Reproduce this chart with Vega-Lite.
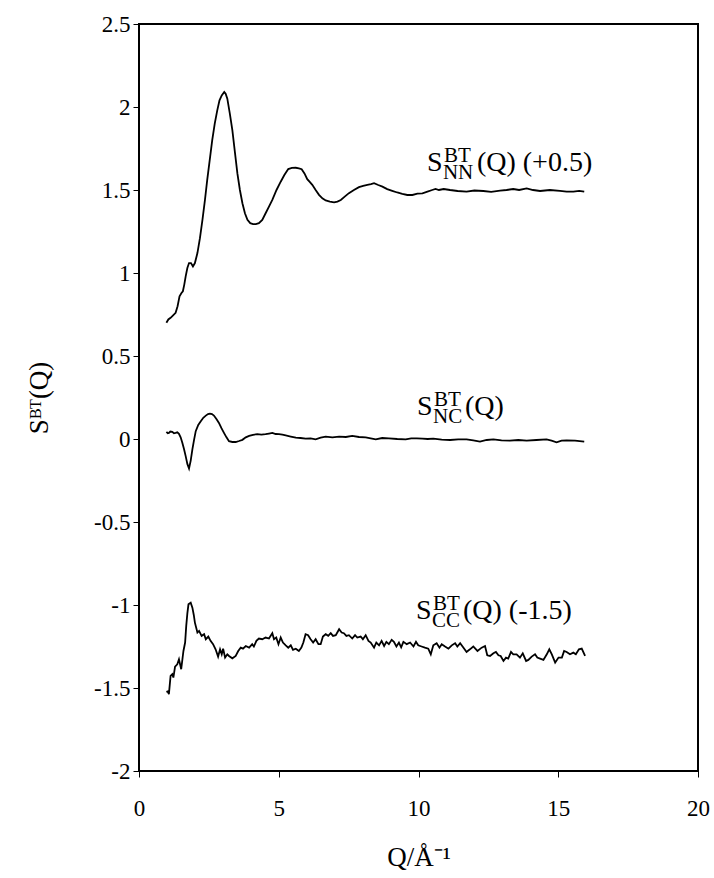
{
  "$schema": "https://vega.github.io/schema/vega-lite/v6.json",
  "width": 559,
  "height": 747,
  "autosize": {"type": "none"},
  "padding": {"left": 139, "top": 24, "right": 16, "bottom": 107},
  "background": "white",
  "config": {
    "view": {"stroke": "black", "strokeWidth": 2},
    "font": "Liberation Serif",
    "axis": {
      "labelFont": "Liberation Serif",
      "titleFont": "Liberation Serif",
      "labelColor": "black",
      "titleColor": "black",
      "tickColor": "black",
      "domainColor": "black",
      "grid": false,
      "labelFontSize": 23,
      "titleFontSize": 27,
      "titleFontWeight": "normal",
      "tickSize": 6
    }
  },
  "datasets": {
    "curves": [
      {"series": "NN", "q": 0.98, "s": 0.70}, {"series": "NN", "q": 1.05, "s": 0.72}, {"series": "NN", "q": 1.13, "s": 0.73}, {"series": "NN", "q": 1.22, "s": 0.745}, {"series": "NN", "q": 1.31, "s": 0.76}, {"series": "NN", "q": 1.38, "s": 0.80}, {"series": "NN", "q": 1.45, "s": 0.86}, {"series": "NN", "q": 1.52, "s": 0.88}, {"series": "NN", "q": 1.57, "s": 0.89}, {"series": "NN", "q": 1.62, "s": 0.93}, {"series": "NN", "q": 1.67, "s": 0.98}, {"series": "NN", "q": 1.73, "s": 1.03}, {"series": "NN", "q": 1.79, "s": 1.06}, {"series": "NN", "q": 1.86, "s": 1.06}, {"series": "NN", "q": 1.93, "s": 1.04}, {"series": "NN", "q": 2.00, "s": 1.06}, {"series": "NN", "q": 2.09, "s": 1.12}, {"series": "NN", "q": 2.18, "s": 1.21}, {"series": "NN", "q": 2.27, "s": 1.32}, {"series": "NN", "q": 2.36, "s": 1.44}, {"series": "NN", "q": 2.44, "s": 1.56}, {"series": "NN", "q": 2.53, "s": 1.68}, {"series": "NN", "q": 2.62, "s": 1.80}, {"series": "NN", "q": 2.71, "s": 1.90}, {"series": "NN", "q": 2.80, "s": 1.98}, {"series": "NN", "q": 2.88, "s": 2.04}, {"series": "NN", "q": 2.96, "s": 2.07}, {"series": "NN", "q": 3.05, "s": 2.09}, {"series": "NN", "q": 3.10, "s": 2.08}, {"series": "NN", "q": 3.16, "s": 2.05}, {"series": "NN", "q": 3.25, "s": 1.96}, {"series": "NN", "q": 3.34, "s": 1.86}, {"series": "NN", "q": 3.43, "s": 1.73}, {"series": "NN", "q": 3.52, "s": 1.60}, {"series": "NN", "q": 3.61, "s": 1.50}, {"series": "NN", "q": 3.70, "s": 1.42}, {"series": "NN", "q": 3.79, "s": 1.36}, {"series": "NN", "q": 3.88, "s": 1.32}, {"series": "NN", "q": 3.98, "s": 1.30}, {"series": "NN", "q": 4.08, "s": 1.295}, {"series": "NN", "q": 4.18, "s": 1.295}, {"series": "NN", "q": 4.29, "s": 1.30}, {"series": "NN", "q": 4.41, "s": 1.32}, {"series": "NN", "q": 4.53, "s": 1.36}, {"series": "NN", "q": 4.65, "s": 1.40}, {"series": "NN", "q": 4.77, "s": 1.44}, {"series": "NN", "q": 4.92, "s": 1.50}, {"series": "NN", "q": 5.07, "s": 1.55}, {"series": "NN", "q": 5.20, "s": 1.59}, {"series": "NN", "q": 5.34, "s": 1.626}, {"series": "NN", "q": 5.47, "s": 1.633}, {"series": "NN", "q": 5.61, "s": 1.634}, {"series": "NN", "q": 5.72, "s": 1.63}, {"series": "NN", "q": 5.82, "s": 1.625}, {"series": "NN", "q": 5.92, "s": 1.60}, {"series": "NN", "q": 6.02, "s": 1.565}, {"series": "NN", "q": 6.10, "s": 1.55}, {"series": "NN", "q": 6.20, "s": 1.531}, {"series": "NN", "q": 6.32, "s": 1.50}, {"series": "NN", "q": 6.44, "s": 1.471}, {"series": "NN", "q": 6.56, "s": 1.45}, {"series": "NN", "q": 6.68, "s": 1.437}, {"series": "NN", "q": 6.83, "s": 1.43}, {"series": "NN", "q": 6.98, "s": 1.425}, {"series": "NN", "q": 7.10, "s": 1.43}, {"series": "NN", "q": 7.22, "s": 1.44}, {"series": "NN", "q": 7.36, "s": 1.46}, {"series": "NN", "q": 7.51, "s": 1.481}, {"series": "NN", "q": 7.69, "s": 1.50}, {"series": "NN", "q": 7.87, "s": 1.517}, {"series": "NN", "q": 8.02, "s": 1.525}, {"series": "NN", "q": 8.17, "s": 1.531}, {"series": "NN", "q": 8.30, "s": 1.535}, {"series": "NN", "q": 8.41, "s": 1.541}, {"series": "NN", "q": 8.56, "s": 1.53}, {"series": "NN", "q": 8.71, "s": 1.52}, {"series": "NN", "q": 8.88, "s": 1.505}, {"series": "NN", "q": 9.06, "s": 1.495}, {"series": "NN", "q": 9.24, "s": 1.485}, {"series": "NN", "q": 9.42, "s": 1.477}, {"series": "NN", "q": 9.60, "s": 1.47}, {"series": "NN", "q": 9.78, "s": 1.47}, {"series": "NN", "q": 9.96, "s": 1.478}, {"series": "NN", "q": 10.14, "s": 1.48}, {"series": "NN", "q": 10.32, "s": 1.49}, {"series": "NN", "q": 10.49, "s": 1.50}, {"series": "NN", "q": 10.61, "s": 1.506}, {"series": "NN", "q": 10.73, "s": 1.50}, {"series": "NN", "q": 10.90, "s": 1.506}, {"series": "NN", "q": 11.13, "s": 1.50}, {"series": "NN", "q": 11.40, "s": 1.494}, {"series": "NN", "q": 11.72, "s": 1.49}, {"series": "NN", "q": 12.00, "s": 1.497}, {"series": "NN", "q": 12.32, "s": 1.494}, {"series": "NN", "q": 12.60, "s": 1.489}, {"series": "NN", "q": 12.92, "s": 1.496}, {"series": "NN", "q": 13.15, "s": 1.50}, {"series": "NN", "q": 13.39, "s": 1.506}, {"series": "NN", "q": 13.60, "s": 1.50}, {"series": "NN", "q": 13.87, "s": 1.51}, {"series": "NN", "q": 14.10, "s": 1.50}, {"series": "NN", "q": 14.35, "s": 1.494}, {"series": "NN", "q": 14.70, "s": 1.50}, {"series": "NN", "q": 15.06, "s": 1.495}, {"series": "NN", "q": 15.30, "s": 1.49}, {"series": "NN", "q": 15.54, "s": 1.49}, {"series": "NN", "q": 15.75, "s": 1.495}, {"series": "NN", "q": 15.93, "s": 1.49},

      {"series": "NC", "q": 0.98, "s": 0.043}, {"series": "NC", "q": 1.03, "s": 0.035}, {"series": "NC", "q": 1.07, "s": 0.037}, {"series": "NC", "q": 1.12, "s": 0.045}, {"series": "NC", "q": 1.19, "s": 0.043}, {"series": "NC", "q": 1.25, "s": 0.035}, {"series": "NC", "q": 1.31, "s": 0.037}, {"series": "NC", "q": 1.37, "s": 0.040}, {"series": "NC", "q": 1.43, "s": 0.031}, {"series": "NC", "q": 1.49, "s": 0.010}, {"series": "NC", "q": 1.55, "s": -0.023}, {"series": "NC", "q": 1.61, "s": -0.06}, {"series": "NC", "q": 1.67, "s": -0.103}, {"series": "NC", "q": 1.73, "s": -0.15}, {"series": "NC", "q": 1.79, "s": -0.178}, {"series": "NC", "q": 1.85, "s": -0.13}, {"series": "NC", "q": 1.91, "s": -0.063}, {"series": "NC", "q": 1.97, "s": -0.005}, {"series": "NC", "q": 2.03, "s": 0.047}, {"series": "NC", "q": 2.12, "s": 0.085}, {"series": "NC", "q": 2.21, "s": 0.107}, {"series": "NC", "q": 2.30, "s": 0.128}, {"series": "NC", "q": 2.39, "s": 0.141}, {"series": "NC", "q": 2.47, "s": 0.150}, {"series": "NC", "q": 2.54, "s": 0.153}, {"series": "NC", "q": 2.61, "s": 0.150}, {"series": "NC", "q": 2.68, "s": 0.141}, {"series": "NC", "q": 2.77, "s": 0.12}, {"series": "NC", "q": 2.86, "s": 0.097}, {"series": "NC", "q": 2.95, "s": 0.065}, {"series": "NC", "q": 3.04, "s": 0.037}, {"series": "NC", "q": 3.13, "s": 0.010}, {"series": "NC", "q": 3.22, "s": -0.013}, {"series": "NC", "q": 3.34, "s": -0.018}, {"series": "NC", "q": 3.46, "s": -0.018}, {"series": "NC", "q": 3.58, "s": -0.012}, {"series": "NC", "q": 3.70, "s": -0.005}, {"series": "NC", "q": 3.82, "s": 0.010}, {"series": "NC", "q": 3.94, "s": 0.019}, {"series": "NC", "q": 4.08, "s": 0.025}, {"series": "NC", "q": 4.23, "s": 0.029}, {"series": "NC", "q": 4.38, "s": 0.026}, {"series": "NC", "q": 4.53, "s": 0.029}, {"series": "NC", "q": 4.65, "s": 0.033}, {"series": "NC", "q": 4.77, "s": 0.037}, {"series": "NC", "q": 4.89, "s": 0.030}, {"series": "NC", "q": 5.01, "s": 0.029}, {"series": "NC", "q": 5.13, "s": 0.026}, {"series": "NC", "q": 5.25, "s": 0.022}, {"series": "NC", "q": 5.43, "s": 0.015}, {"series": "NC", "q": 5.61, "s": 0.008}, {"series": "NC", "q": 5.78, "s": 0.006}, {"series": "NC", "q": 5.96, "s": 0.002}, {"series": "NC", "q": 6.14, "s": 0.004}, {"series": "NC", "q": 6.32, "s": -0.002}, {"series": "NC", "q": 6.50, "s": 0.008}, {"series": "NC", "q": 6.68, "s": 0.014}, {"series": "NC", "q": 6.92, "s": 0.010}, {"series": "NC", "q": 7.16, "s": 0.014}, {"series": "NC", "q": 7.40, "s": 0.012}, {"series": "NC", "q": 7.63, "s": 0.019}, {"series": "NC", "q": 7.87, "s": 0.012}, {"series": "NC", "q": 8.11, "s": 0.010}, {"series": "NC", "q": 8.29, "s": 0.004}, {"series": "NC", "q": 8.47, "s": -0.002}, {"series": "NC", "q": 8.70, "s": 0.006}, {"series": "NC", "q": 8.94, "s": 0.004}, {"series": "NC", "q": 9.24, "s": 0.000}, {"series": "NC", "q": 9.54, "s": -0.002}, {"series": "NC", "q": 9.74, "s": 0.004}, {"series": "NC", "q": 9.94, "s": 0.004}, {"series": "NC", "q": 10.14, "s": 0.002}, {"series": "NC", "q": 10.33, "s": 0.0}, {"series": "NC", "q": 10.53, "s": 0.002}, {"series": "NC", "q": 10.83, "s": -0.004}, {"series": "NC", "q": 11.13, "s": -0.006}, {"series": "NC", "q": 11.42, "s": -0.002}, {"series": "NC", "q": 11.72, "s": -0.002}, {"series": "NC", "q": 11.96, "s": -0.008}, {"series": "NC", "q": 12.20, "s": -0.016}, {"series": "NC", "q": 12.44, "s": -0.006}, {"series": "NC", "q": 12.68, "s": -0.002}, {"series": "NC", "q": 12.97, "s": -0.008}, {"series": "NC", "q": 13.27, "s": -0.010}, {"series": "NC", "q": 13.57, "s": -0.006}, {"series": "NC", "q": 13.87, "s": -0.010}, {"series": "NC", "q": 14.22, "s": -0.006}, {"series": "NC", "q": 14.58, "s": -0.002}, {"series": "NC", "q": 14.76, "s": -0.010}, {"series": "NC", "q": 14.94, "s": -0.020}, {"series": "NC", "q": 15.12, "s": -0.010}, {"series": "NC", "q": 15.30, "s": -0.008}, {"series": "NC", "q": 15.60, "s": -0.010}, {"series": "NC", "q": 15.93, "s": -0.016},

      {"series": "CC", "q": 0.98, "s": -1.523}, {"series": "CC", "q": 1.03, "s": -1.52}, {"series": "CC", "q": 1.07, "s": -1.537}, {"series": "CC", "q": 1.13, "s": -1.427}, {"series": "CC", "q": 1.19, "s": -1.417}, {"series": "CC", "q": 1.23, "s": -1.437}, {"series": "CC", "q": 1.29, "s": -1.371}, {"series": "CC", "q": 1.37, "s": -1.357}, {"series": "CC", "q": 1.43, "s": -1.327}, {"series": "CC", "q": 1.51, "s": -1.387}, {"series": "CC", "q": 1.59, "s": -1.277}, {"series": "CC", "q": 1.65, "s": -1.226}, {"series": "CC", "q": 1.69, "s": -1.126}, {"series": "CC", "q": 1.73, "s": -1.05}, {"series": "CC", "q": 1.77, "s": -0.996}, {"series": "CC", "q": 1.85, "s": -0.986}, {"series": "CC", "q": 1.91, "s": -1.016}, {"series": "CC", "q": 1.96, "s": -1.06}, {"series": "CC", "q": 2.00, "s": -1.106}, {"series": "CC", "q": 2.09, "s": -1.166}, {"series": "CC", "q": 2.15, "s": -1.156}, {"series": "CC", "q": 2.24, "s": -1.186}, {"series": "CC", "q": 2.33, "s": -1.176}, {"series": "CC", "q": 2.39, "s": -1.206}, {"series": "CC", "q": 2.48, "s": -1.190}, {"series": "CC", "q": 2.56, "s": -1.216}, {"series": "CC", "q": 2.65, "s": -1.236}, {"series": "CC", "q": 2.74, "s": -1.267}, {"series": "CC", "q": 2.83, "s": -1.311}, {"series": "CC", "q": 2.90, "s": -1.267}, {"series": "CC", "q": 2.96, "s": -1.297}, {"series": "CC", "q": 3.01, "s": -1.263}, {"series": "CC", "q": 3.08, "s": -1.317}, {"series": "CC", "q": 3.16, "s": -1.297}, {"series": "CC", "q": 3.22, "s": -1.307}, {"series": "CC", "q": 3.34, "s": -1.321}, {"series": "CC", "q": 3.46, "s": -1.307}, {"series": "CC", "q": 3.55, "s": -1.277}, {"series": "CC", "q": 3.64, "s": -1.257}, {"series": "CC", "q": 3.72, "s": -1.263}, {"series": "CC", "q": 3.82, "s": -1.247}, {"series": "CC", "q": 3.94, "s": -1.257}, {"series": "CC", "q": 4.05, "s": -1.236}, {"series": "CC", "q": 4.11, "s": -1.250}, {"series": "CC", "q": 4.20, "s": -1.216}, {"series": "CC", "q": 4.29, "s": -1.202}, {"series": "CC", "q": 4.41, "s": -1.206}, {"series": "CC", "q": 4.53, "s": -1.196}, {"series": "CC", "q": 4.65, "s": -1.202}, {"series": "CC", "q": 4.77, "s": -1.170}, {"series": "CC", "q": 4.83, "s": -1.206}, {"series": "CC", "q": 4.91, "s": -1.196}, {"series": "CC", "q": 4.99, "s": -1.236}, {"series": "CC", "q": 5.07, "s": -1.196}, {"series": "CC", "q": 5.15, "s": -1.226}, {"series": "CC", "q": 5.25, "s": -1.243}, {"series": "CC", "q": 5.34, "s": -1.257}, {"series": "CC", "q": 5.43, "s": -1.243}, {"series": "CC", "q": 5.51, "s": -1.270}, {"series": "CC", "q": 5.61, "s": -1.263}, {"series": "CC", "q": 5.72, "s": -1.277}, {"series": "CC", "q": 5.81, "s": -1.257}, {"series": "CC", "q": 5.88, "s": -1.226}, {"series": "CC", "q": 5.96, "s": -1.176}, {"series": "CC", "q": 6.05, "s": -1.182}, {"series": "CC", "q": 6.14, "s": -1.206}, {"series": "CC", "q": 6.23, "s": -1.226}, {"series": "CC", "q": 6.32, "s": -1.206}, {"series": "CC", "q": 6.42, "s": -1.236}, {"series": "CC", "q": 6.50, "s": -1.236}, {"series": "CC", "q": 6.58, "s": -1.190}, {"series": "CC", "q": 6.68, "s": -1.176}, {"series": "CC", "q": 6.77, "s": -1.186}, {"series": "CC", "q": 6.86, "s": -1.170}, {"series": "CC", "q": 6.94, "s": -1.186}, {"series": "CC", "q": 7.04, "s": -1.182}, {"series": "CC", "q": 7.16, "s": -1.146}, {"series": "CC", "q": 7.25, "s": -1.166}, {"series": "CC", "q": 7.33, "s": -1.170}, {"series": "CC", "q": 7.42, "s": -1.186}, {"series": "CC", "q": 7.51, "s": -1.182}, {"series": "CC", "q": 7.63, "s": -1.202}, {"series": "CC", "q": 7.73, "s": -1.182}, {"series": "CC", "q": 7.81, "s": -1.196}, {"series": "CC", "q": 7.93, "s": -1.190}, {"series": "CC", "q": 8.01, "s": -1.206}, {"series": "CC", "q": 8.11, "s": -1.182}, {"series": "CC", "q": 8.21, "s": -1.216}, {"series": "CC", "q": 8.29, "s": -1.226}, {"series": "CC", "q": 8.41, "s": -1.257}, {"series": "CC", "q": 8.49, "s": -1.226}, {"series": "CC", "q": 8.59, "s": -1.243}, {"series": "CC", "q": 8.68, "s": -1.216}, {"series": "CC", "q": 8.77, "s": -1.247}, {"series": "CC", "q": 8.85, "s": -1.222}, {"series": "CC", "q": 8.94, "s": -1.236}, {"series": "CC", "q": 9.04, "s": -1.210}, {"series": "CC", "q": 9.12, "s": -1.222}, {"series": "CC", "q": 9.21, "s": -1.250}, {"series": "CC", "q": 9.30, "s": -1.226}, {"series": "CC", "q": 9.38, "s": -1.255}, {"series": "CC", "q": 9.46, "s": -1.222}, {"series": "CC", "q": 9.58, "s": -1.236}, {"series": "CC", "q": 9.70, "s": -1.226}, {"series": "CC", "q": 9.82, "s": -1.250}, {"series": "CC", "q": 9.91, "s": -1.222}, {"series": "CC", "q": 9.99, "s": -1.243}, {"series": "CC", "q": 10.11, "s": -1.250}, {"series": "CC", "q": 10.23, "s": -1.257}, {"series": "CC", "q": 10.35, "s": -1.263}, {"series": "CC", "q": 10.44, "s": -1.297}, {"series": "CC", "q": 10.53, "s": -1.243}, {"series": "CC", "q": 10.65, "s": -1.230}, {"series": "CC", "q": 10.75, "s": -1.257}, {"series": "CC", "q": 10.83, "s": -1.236}, {"series": "CC", "q": 10.95, "s": -1.250}, {"series": "CC", "q": 11.07, "s": -1.263}, {"series": "CC", "q": 11.19, "s": -1.243}, {"series": "CC", "q": 11.31, "s": -1.230}, {"series": "CC", "q": 11.39, "s": -1.250}, {"series": "CC", "q": 11.49, "s": -1.230}, {"series": "CC", "q": 11.61, "s": -1.257}, {"series": "CC", "q": 11.72, "s": -1.283}, {"series": "CC", "q": 11.84, "s": -1.267}, {"series": "CC", "q": 11.96, "s": -1.250}, {"series": "CC", "q": 12.11, "s": -1.277}, {"series": "CC", "q": 12.26, "s": -1.257}, {"series": "CC", "q": 12.38, "s": -1.247}, {"series": "CC", "q": 12.46, "s": -1.303}, {"series": "CC", "q": 12.56, "s": -1.307}, {"series": "CC", "q": 12.68, "s": -1.291}, {"series": "CC", "q": 12.77, "s": -1.283}, {"series": "CC", "q": 12.86, "s": -1.303}, {"series": "CC", "q": 12.94, "s": -1.307}, {"series": "CC", "q": 13.04, "s": -1.337}, {"series": "CC", "q": 13.13, "s": -1.317}, {"series": "CC", "q": 13.21, "s": -1.323}, {"series": "CC", "q": 13.31, "s": -1.283}, {"series": "CC", "q": 13.39, "s": -1.297}, {"series": "CC", "q": 13.51, "s": -1.297}, {"series": "CC", "q": 13.63, "s": -1.317}, {"series": "CC", "q": 13.73, "s": -1.291}, {"series": "CC", "q": 13.85, "s": -1.337}, {"series": "CC", "q": 13.93, "s": -1.331}, {"series": "CC", "q": 14.05, "s": -1.311}, {"series": "CC", "q": 14.17, "s": -1.297}, {"series": "CC", "q": 14.25, "s": -1.317}, {"series": "CC", "q": 14.35, "s": -1.323}, {"series": "CC", "q": 14.47, "s": -1.331}, {"series": "CC", "q": 14.59, "s": -1.297}, {"series": "CC", "q": 14.68, "s": -1.267}, {"series": "CC", "q": 14.77, "s": -1.297}, {"series": "CC", "q": 14.89, "s": -1.347}, {"series": "CC", "q": 15.01, "s": -1.317}, {"series": "CC", "q": 15.13, "s": -1.317}, {"series": "CC", "q": 15.21, "s": -1.277}, {"series": "CC", "q": 15.30, "s": -1.283}, {"series": "CC", "q": 15.42, "s": -1.297}, {"series": "CC", "q": 15.54, "s": -1.287}, {"series": "CC", "q": 15.63, "s": -1.297}, {"series": "CC", "q": 15.74, "s": -1.267}, {"series": "CC", "q": 15.84, "s": -1.263}, {"series": "CC", "q": 15.96, "s": -1.307}
    ],
    "labels": [
      {"role": "S", "q": 10.30, "s": 1.616, "t": "S"},
      {"role": "sup", "q": 10.30, "s": 1.616, "t": "BT"},
      {"role": "sub", "q": 10.30, "s": 1.616, "t": "NN"},
      {"role": "rest", "q": 12.09, "s": 1.616, "t": "(Q) (+0.5)"},
      {"role": "S", "q": 9.95, "s": 0.147, "t": "S"},
      {"role": "sup", "q": 9.95, "s": 0.147, "t": "BT"},
      {"role": "sub", "q": 9.95, "s": 0.147, "t": "NC"},
      {"role": "rest", "q": 11.66, "s": 0.147, "t": "(Q)"},
      {"role": "S", "q": 9.91, "s": -1.086, "t": "S"},
      {"role": "sup", "q": 9.91, "s": -1.086, "t": "BT"},
      {"role": "sub", "q": 9.91, "s": -1.086, "t": "CC"},
      {"role": "rest", "q": 11.59, "s": -1.086, "t": "(Q) (-1.5)"}
    ]
  },
  "encoding": {
    "x": {
      "field": "q", "type": "quantitative",
      "scale": {"domain": [0, 20], "nice": false, "zero": false},
      "axis": {"values": [0, 5, 10, 15, 20], "labelExpr": "datum.value + ''", "title": "Q/Å⁻¹", "labelPadding": 20, "titlePadding": 24, "labelFlush": false}
    },
    "y": {
      "field": "s", "type": "quantitative",
      "scale": {"domain": [-2, 2.5], "nice": false, "zero": false},
      "axis": {"values": [-2, -1.5, -1, -0.5, 0, 0.5, 1, 1.5, 2, 2.5], "labelExpr": "datum.value + ''", "title": "Sᴮᵀ(Q)", "labelPadding": 3, "titlePadding": 40, "labelFlush": false}
    }
  },
  "layer": [
    {
      "data": {"name": "curves"},
      "mark": {"type": "line", "color": "black", "strokeWidth": 1.8, "clip": true},
      "encoding": {"detail": {"field": "series"}}
    },
    {
      "data": {"name": "labels"},
      "transform": [{"filter": "datum.role === 'S' || datum.role === 'rest'"}],
      "mark": {"type": "text", "align": "left", "baseline": "alphabetic", "fontSize": 28, "font": "Liberation Serif", "color": "black"},
      "encoding": {"text": {"field": "t"}}
    },
    {
      "data": {"name": "labels"},
      "transform": [{"filter": "datum.role === 'sup'"}],
      "mark": {"type": "text", "align": "left", "baseline": "alphabetic", "fontSize": 21, "font": "Liberation Serif", "color": "black", "dx": 17, "dy": -9},
      "encoding": {"text": {"field": "t"}}
    },
    {
      "data": {"name": "labels"},
      "transform": [{"filter": "datum.role === 'sub'"}],
      "mark": {"type": "text", "align": "left", "baseline": "alphabetic", "fontSize": 21, "font": "Liberation Serif", "color": "black", "dx": 16, "dy": 8},
      "encoding": {"text": {"field": "t"}}
    }
  ]
}
